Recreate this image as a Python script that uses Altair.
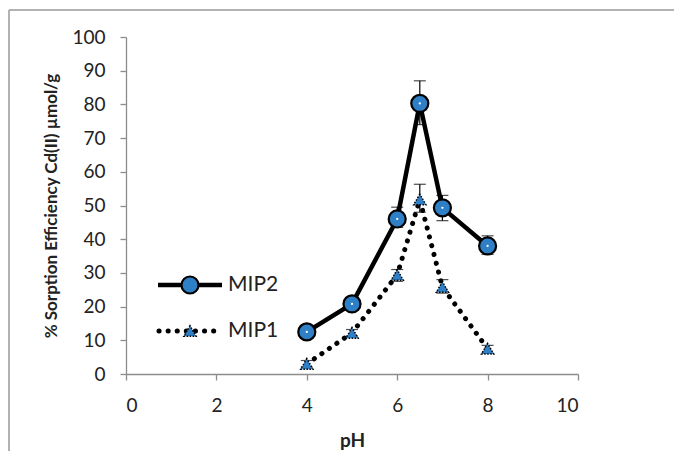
import altair as alt
import pandas as pd

ph = [4, 5, 6, 6.5, 7, 8]
mip2 = [12.5, 20.8, 46, 80.3, 49.3, 38]
mip2_lo = [11, 19.8, 43.5, 74, 45.5, 35.5]
mip2_hi = [13.5, 22, 49.5, 87, 53, 41]
mip1 = [3, 12.2, 29.4, 51.8, 25.8, 7.5]
mip1_lo = [2, 11.2, 27.5, 48, 24, 6.2]
mip1_hi = [4, 13.2, 31, 56.3, 28, 8.5]
series = ["MIP2", "MIP1"]
x_ticks = [0, 2, 4, 6, 8, 10]
y_ticks = [0, 10, 20, 30, 40, 50, 60, 70, 80, 90, 100]

FONT = "Lato"
BLUE = "#2F7FC6"

d2 = pd.DataFrame({"pH": ph, "v": mip2, "lo": mip2_lo, "hi": mip2_hi})
d1 = pd.DataFrame({"pH": ph, "v": mip1, "lo": mip1_lo, "hi": mip1_hi})

xs = alt.Scale(domain=[0, 10])
ys = alt.Scale(domain=[0, 100])
XA = alt.Axis(values=x_ticks, grid=False, labelOverlap=False)
YA = alt.Axis(values=y_ticks, grid=False, labelOverlap=False)
XT = "pH"
YT = "% Sorption Efficiency Cd(II) µmol/g"
X = alt.X("pH:Q", scale=xs, title=XT, axis=XA)
Y = alt.Y("v:Q", scale=ys, title=YT, axis=YA)


def err(df):
    base = alt.Chart(df)
    xe = alt.X("pH:Q", scale=xs, title=XT, axis=XA)
    rule = base.mark_rule(color="black", strokeWidth=1.2).encode(
        x=xe, y=alt.Y("lo:Q", scale=ys, title=YT, axis=YA), y2="hi:Q")
    t1 = base.mark_tick(orient="horizontal", size=12, thickness=1.2, color="black").encode(
        x=xe, y=alt.Y("hi:Q", scale=ys, title=YT, axis=YA))
    t2 = base.mark_tick(orient="horizontal", size=12, thickness=1.2, color="black").encode(
        x=xe, y=alt.Y("lo:Q", scale=ys, title=YT, axis=YA))
    return rule + t1 + t2


line1 = alt.Chart(d1).mark_line(color="black", strokeWidth=5, strokeDash=[0.1, 9],
                                strokeCap="round").encode(x=X, y=Y)
pts1 = alt.Chart(d1).mark_point(shape="triangle-up", size=150, filled=True, fill=BLUE,
                                stroke="black", strokeWidth=1.5, strokeDash=[1.5, 1.5],
                                opacity=1).encode(x=X, y=Y)
line2 = alt.Chart(d2).mark_line(color="black", strokeWidth=4.5).encode(x=X, y=Y)
pts2 = alt.Chart(d2).mark_point(shape="circle", size=290, filled=True, fill=BLUE,
                                stroke="black", strokeWidth=2.2, opacity=1).encode(x=X, y=Y)
hl2 = alt.Chart(d2).mark_point(shape="circle", size=5, filled=True, color="white",
                               opacity=1).encode(x=X, y=Y)

# legend
leg = pd.DataFrame({"name": series})
legl2 = alt.Chart(leg.iloc[[0]]).mark_rule(color="black", strokeWidth=4.5).encode(
    x=alt.value(32), x2=alt.value(96), y=alt.value(248))
legp2 = alt.Chart(leg.iloc[[0]]).mark_point(shape="circle", size=290, filled=True, fill=BLUE,
                                            stroke="black", strokeWidth=2.2, opacity=1).encode(
    x=alt.value(64), y=alt.value(248))
legt2 = alt.Chart(leg.iloc[[0]]).mark_text(align="left", baseline="middle", font=FONT,
                                           fontSize=21, color="#222").encode(
    x=alt.value(102), y=alt.value(248), text="name:N")
legl1 = alt.Chart(leg.iloc[[1]]).mark_rule(color="black", strokeWidth=5, strokeDash=[0.1, 9],
                                           strokeCap="round").encode(
    x=alt.value(33), x2=alt.value(96), y=alt.value(294))
legp1 = alt.Chart(leg.iloc[[1]]).mark_point(shape="triangle-up", size=150, filled=True, fill=BLUE,
                                            stroke="black", strokeWidth=1.5, strokeDash=[1.5, 1.5],
                                            opacity=1).encode(
    x=alt.value(64), y=alt.value(294))
legt1 = alt.Chart(leg.iloc[[1]]).mark_text(align="left", baseline="middle", font=FONT,
                                           fontSize=21, color="#222").encode(
    x=alt.value(102), y=alt.value(294), text="name:N")

# outer frame (left and top edges)
frame_l = alt.Chart(leg.iloc[[0]]).mark_rule(color="#999", strokeWidth=1.5).encode(
    x=alt.value(-117), y=alt.value(-27), y2=alt.value(420))
frame_t = alt.Chart(leg.iloc[[0]]).mark_rule(color="#999", strokeWidth=1.5).encode(
    x=alt.value(-117), x2=alt.value(560), y=alt.value(-27))

chart = alt.layer(
    line1, line2, err(d2), err(d1), pts1, pts2, hl2,
    frame_l, frame_t,
    legl2, legp2, legt2, legl1, legp1, legt1,
).properties(
    width=452, height=337,
    autosize=alt.AutoSizeParams(type="none"),
    padding={"left": 118, "top": 29, "right": 96, "bottom": 77},
).configure_view(stroke=None, clip=False).configure_axis(
    domainColor="#8c8c8c", tickColor="#8c8c8c", domainWidth=1.3, tickWidth=1.3,
    tickSize=6, labelFont=FONT, labelFontSize=19, labelColor="#222",
    titleFont=FONT, titleFontSize=17, titleFontWeight="bold", titleColor="#222",
).configure_axisY(labelPadding=15, titlePadding=11).configure_axisX(
    labelPadding=16, titleFontSize=19, titlePadding=16)

chart.save("out.html", embed_options={"renderer": "svg", "actions": False})
